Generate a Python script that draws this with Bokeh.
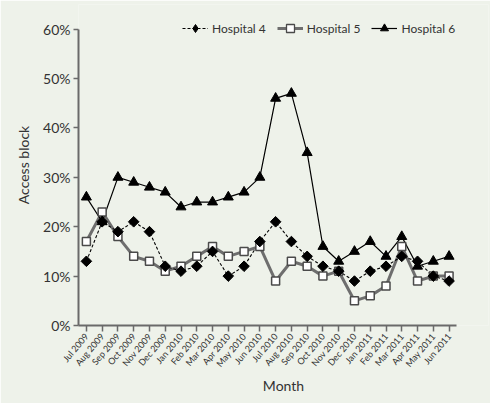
from math import pi
from bokeh.plotting import figure
from bokeh.models import (FixedTicker, PrintfTickFormatter, Legend, LegendItem,
                          ColumnDataSource, Range1d)
from bokeh.embed import file_html
from bokeh.resources import INLINE

months = ["Jul 2009", "Aug 2009", "Sep 2009", "Oct 2009", "Nov 2009", "Dec 2009",
          "Jan 2010", "Feb 2010", "Mar 2010", "Apr 2010", "May 2010", "Jun 2010",
          "Jul 2010", "Aug 2010", "Sep 2010", "Oct 2010", "Nov 2010", "Dec 2010",
          "Jan 2011", "Feb 2011", "Mar 2011", "Apr 2011", "May 2011", "Jun 2011"]
hospital4 = [13, 21, 19, 21, 19, 12, 11, 12, 15, 10, 12, 17,
             21, 17, 14, 12, 11, 9, 11, 12, 14, 13, 10, 9]
hospital5 = [17, 23, 18, 14, 13, 11, 12, 14, 16, 14, 15, 16,
             9, 13, 12, 10, 11, 5, 6, 8, 16, 9, 10, 10]
hospital6 = [26, 21, 30, 29, 28, 27, 24, 25, 25, 26, 27, 30,
             46, 47, 35, 16, 13, 15, 17, 14, 18, 12, 13, 14]
y_ticks = [0, 10, 20, 30, 40, 50, 60]

BG = "#eef2ea"
FONT = "Lato"
AX = "#6a6a6a"

x = list(range(len(months)))
src = ColumnDataSource(dict(x=x, h4=hospital4, h5=hospital5, h6=hospital6))

# ranges extend a little beyond the data area so the legend has room inside the
# frame; the axis lines themselves are bounded to the data area.
p = figure(width=490, height=403, output_backend="svg", toolbar_location=None,
           x_range=Range1d(-0.5, 25.5), y_range=Range1d(0, 65),
           min_border_left=78, min_border_right=2, min_border_top=4,
           min_border_bottom=78)
p.background_fill_color = BG
p.border_fill_color = BG
p.outline_line_color = None
p.grid.visible = False

# Hospital 5 (grey line, white squares)
l5 = p.line("x", "h5", source=src, line_color="#6e6e6e", line_width=3)
# Hospital 4 (dashed black, diamonds)
l4 = p.line("x", "h4", source=src, line_color="black", line_width=1.1, line_dash="3 2")
# Hospital 6 (solid black, triangles)
l6 = p.line("x", "h6", source=src, line_color="black", line_width=1.2)

m5 = p.scatter("x", "h5", source=src, marker="square", size=8,
               fill_color="white", line_color="#4a4a4a", line_width=1.5)
m4 = p.scatter("x", "h4", source=src, marker="square", size=7.5, angle=pi / 4,
               fill_color="black", line_color="black")
m6 = p.scatter("x", "h6", source=src, marker="triangle", size=10,
               fill_color="black", line_color="black")

# hidden renderers used only for the legend key (smaller marks, diamond shape)
k4 = p.scatter("x", "h4", source=src, marker="diamond", size=10,
               fill_color="black", line_color="black", visible=False)
k5 = p.scatter("x", "h5", source=src, marker="square", size=7,
               fill_color="white", line_color="#4a4a4a", line_width=1.3, visible=False)
k6 = p.scatter("x", "h6", source=src, marker="triangle", size=7,
               fill_color="black", line_color="black", visible=False)

p.xaxis.ticker = FixedTicker(ticks=x)
p.xaxis.major_label_overrides = {i: m for i, m in enumerate(months)}
p.xaxis.major_label_orientation = 0.87
p.xaxis.bounds = (-0.5, len(months) - 0.5)
p.yaxis.ticker = FixedTicker(ticks=y_ticks)
p.yaxis.formatter = PrintfTickFormatter(format="%d%%")
p.yaxis.bounds = (0, 60)

for ax in (p.xaxis, p.yaxis):
    ax.axis_line_color = AX
    ax.axis_line_width = 2
    ax.major_tick_line_color = AX
    ax.major_tick_line_width = 1.5
    ax.major_tick_in = 0
    ax.minor_tick_line_color = None
    ax.major_label_text_font = FONT
    ax.major_label_text_color = "#333333"
    ax.axis_label_text_font = FONT
    ax.axis_label_text_font_style = "normal"
    ax.axis_label_text_color = "#333333"
    ax.axis_label_text_font_size = "14px"

p.xaxis.major_tick_out = 6
p.yaxis.major_tick_out = 5
p.xaxis.major_label_text_font_size = "9px"
p.yaxis.major_label_text_font_size = "14px"
p.xaxis.major_label_standoff = 3
p.yaxis.major_label_standoff = 3
p.xaxis.axis_label_standoff = 2
p.yaxis.axis_label_standoff = 8
p.xaxis.axis_label = "Month"
p.yaxis.axis_label = "Access block"

legend = Legend(items=[
    LegendItem(label="Hospital 4", renderers=[l4, k4]),
    LegendItem(label="Hospital 5", renderers=[l5, k5]),
    LegendItem(label="Hospital 6", renderers=[l6, k6]),
], orientation="horizontal", location=(104, 287))
legend.background_fill_alpha = 0
legend.border_line_color = None
legend.padding = 0
legend.margin = 0
legend.spacing = 11
legend.glyph_width = 26
legend.glyph_height = 20
legend.label_standoff = 4
legend.label_text_font = FONT
legend.label_text_font_size = "12px"
legend.label_text_color = "#333333"
p.add_layout(legend)

html = file_html(p, INLINE)
html = html.replace("<body>", '<body style="background:%s">' % BG, 1)
open("out.html", "w").write(html)
